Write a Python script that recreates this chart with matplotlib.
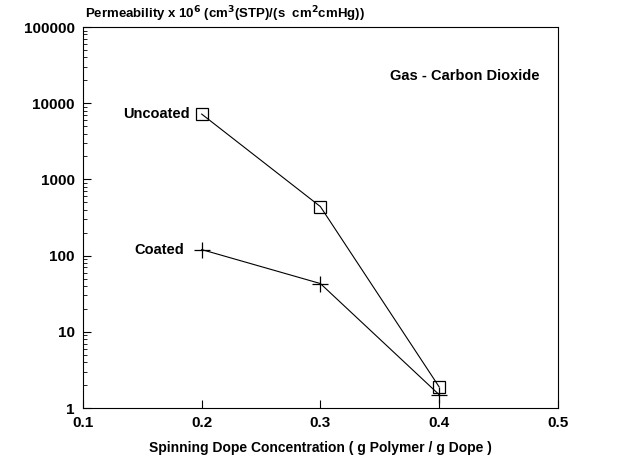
# plot.py
# Recreates the CO2 permeability vs. spinning dope concentration chart.

import matplotlib
matplotlib.use('Agg')
import matplotlib.pyplot as plt
from matplotlib.ticker import LogLocator, FixedLocator, NullFormatter

# --- Data ---
concentration = [0.2, 0.3, 0.4]
uncoated = [7200, 440, 1.9]
coated = [120, 43, 1.5]

x_ticks = [0.1, 0.2, 0.3, 0.4, 0.5]
y_ticks = [1, 10, 100, 1000, 10000, 100000]
y_tick_labels = ['1', '10', '100', '1000', '10000', '100000']

plt.rcParams['font.family'] = ['Liberation Sans', 'DejaVu Sans']
plt.rcParams['font.weight'] = 'bold'

fig = plt.figure(figsize=(6.36, 4.69), dpi=100)
ax = fig.add_axes([0.1305, 0.130, 0.7465, 0.8124])

ax.plot(concentration, uncoated, color='black', linewidth=0.8,
        marker='s', markersize=8, markerfacecolor='none',
        markeredgecolor='black', markeredgewidth=0.9)
ax.plot(concentration, coated, color='black', linewidth=0.8,
        marker='+', markersize=12, markeredgewidth=0.9)

ax.set_yscale('log')
ax.set_xlim(0.1, 0.5)
ax.set_ylim(1, 100000)

ax.xaxis.set_major_locator(FixedLocator(x_ticks))
ax.set_xticklabels([f'{t:.1f}' for t in x_ticks], fontsize=11, fontweight='bold')
ax.yaxis.set_major_locator(FixedLocator(y_ticks))
ax.set_yticklabels(y_tick_labels, fontsize=11, fontweight='bold')
ax.yaxis.set_minor_locator(LogLocator(base=10, subs=range(2, 10)))
ax.yaxis.set_minor_formatter(NullFormatter())

ax.tick_params(axis='both', which='major', direction='in', length=6, width=0.8, pad=6)
ax.tick_params(axis='y', which='minor', direction='in', length=3, width=0.6)

for spine in ax.spines.values():
    spine.set_linewidth(0.8)

ax.set_xlabel('Spinning Dope Concentration ( g Polymer / g Dope )',
              fontsize=10, fontweight='bold', labelpad=8)

fig.text(0.134, 0.948,
         r'Permeability x 10$^{\mathbf{6}}$ (cm$^{\mathbf{3}}$(STP)/(s  cm$^{\mathbf{2}}$cmHg))',
         fontsize=9.5, fontweight='bold', ha='left', va='bottom')

ax.text(0.19, 7200, 'Uncoated', fontsize=10.5, fontweight='bold', ha='right', va='center')
ax.text(0.185, 120, 'Coated', fontsize=10.5, fontweight='bold', ha='right', va='center')
ax.text(0.485, 23000, 'Gas - Carbon Dioxide', fontsize=10.5, fontweight='bold',
        ha='right', va='center')

fig.savefig('out.png', dpi=100)
